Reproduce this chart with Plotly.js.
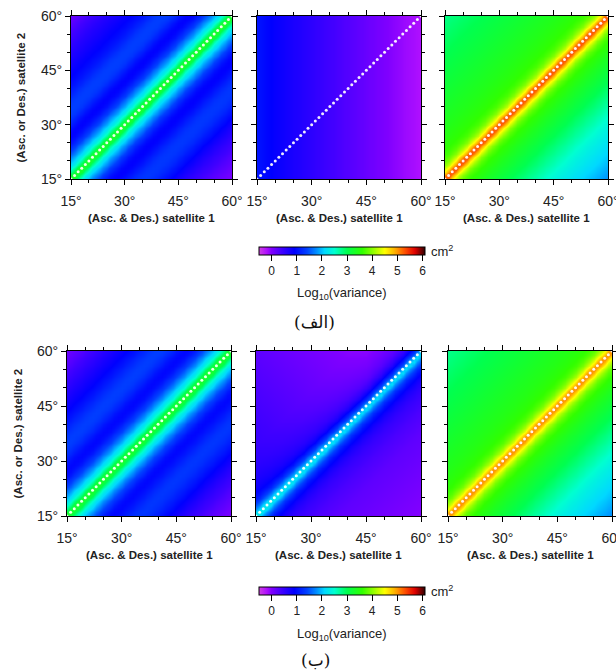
<!DOCTYPE html>
<html><head><meta charset="utf-8">
<script src="https://cdn.plot.ly/plotly-3.0.1.min.js"></script>
<style>html,body{margin:0;padding:0;background:#fff}</style>
</head><body><div id="chart" style="width:616px;height:672px"></div>
<script>
// grid positions (degrees) for both satellites
const gridDeg = [15,16,17,18,19,20,21,22,23,24,25,26,27,28,29,30,31,32,33,34,35,36,37,38,39,40,41,42,43,44,45,46,47,48,49,50,51,52,53,54,55,56,57,58,59,60];

// log10(variance) versus offset from the diagonal (0..45 deg), upper / lower triangle
const p1aUp = [3.4,3.15,2.75,2.4,2.15,1.95,1.75,1.55,1.35,1.2,1.05,0.95,0.9,0.92,1.0,1.1,1.2,1.3,1.35,1.38,1.38,1.35,1.3,1.22,1.15,1.08,1.02,0.97,0.92,0.88,0.85,0.8,0.76,0.72,0.68,0.64,0.6,0.55,0.5,0.45,0.4,0.35,0.3,0.25,0.2,0.15];
const p1aLo = [3.4,3.15,2.75,2.4,2.15,1.95,1.75,1.55,1.35,1.2,1.05,0.95,0.9,0.9,0.95,1.02,1.1,1.18,1.25,1.3,1.32,1.32,1.3,1.25,1.2,1.12,1.05,0.98,0.9,0.82,0.75,0.68,0.62,0.56,0.5,0.45,0.4,0.35,0.3,0.26,0.22,0.18,0.14,0.1,0.07,0.05];
const p2aCol = [1.05,1.01,0.97,0.93,0.89,0.85,0.82,0.79,0.76,0.73,0.7,0.67,0.64,0.61,0.58,0.55,0.52,0.49,0.46,0.43,0.4,0.38,0.35,0.33,0.3,0.28,0.25,0.23,0.2,0.18,0.15,0.12,0.1,0.07,0.05,0.02,0.0,-0.03,-0.05,-0.07,-0.1,-0.12,-0.14,-0.16,-0.18,-0.2];
const p3aUp = [5.45,5.05,4.6,4.25,4.0,3.83,3.72,3.65,3.6,3.56,3.53,3.5,3.47,3.45,3.42,3.4,3.38,3.36,3.34,3.32,3.3,3.28,3.26,3.24,3.22,3.2,3.18,3.16,3.14,3.12,3.1,3.08,3.06,3.04,3.02,3.0,2.98,2.96,2.94,2.92,2.9,2.88,2.86,2.84,2.82,2.8];
const p3aLo = [5.45,5.05,4.6,4.25,3.98,3.8,3.68,3.6,3.53,3.47,3.41,3.35,3.3,3.25,3.2,3.15,3.1,3.05,3.0,2.95,2.9,2.85,2.8,2.75,2.7,2.65,2.6,2.55,2.5,2.45,2.4,2.36,2.32,2.28,2.24,2.2,2.16,2.12,2.08,2.04,2.0,1.96,1.92,1.88,1.84,1.8];

const p1bUp = [3.35,3.15,2.8,2.45,2.2,2.0,1.8,1.6,1.42,1.27,1.12,1.0,0.95,0.95,1.0,1.08,1.17,1.25,1.32,1.36,1.38,1.36,1.32,1.26,1.2,1.13,1.06,1.0,0.94,0.88,0.83,0.78,0.73,0.68,0.63,0.58,0.53,0.48,0.43,0.38,0.33,0.28,0.24,0.2,0.16,0.12];
const p1bLo = [3.35,3.15,2.8,2.45,2.2,2.0,1.8,1.6,1.42,1.27,1.12,1.0,0.95,0.95,1.0,1.06,1.13,1.2,1.26,1.3,1.32,1.3,1.27,1.22,1.16,1.1,1.03,0.96,0.89,0.82,0.75,0.68,0.62,0.56,0.5,0.45,0.4,0.35,0.3,0.26,0.22,0.18,0.14,0.1,0.07,0.05];
const p2bUp = [2.35,2.15,1.8,1.5,1.25,1.07,0.95,0.86,0.8,0.75,0.71,0.67,0.64,0.61,0.58,0.56,0.54,0.52,0.5,0.48,0.47,0.46,0.45,0.44,0.43,0.42,0.41,0.4,0.39,0.38,0.37,0.36,0.35,0.34,0.33,0.32,0.31,0.3,0.29,0.28,0.27,0.26,0.25,0.24,0.23,0.22];
const p2bLo = [2.35,2.15,1.8,1.5,1.25,1.05,0.92,0.8,0.7,0.62,0.56,0.5,0.46,0.42,0.39,0.36,0.33,0.31,0.29,0.27,0.25,0.23,0.21,0.2,0.19,0.18,0.17,0.16,0.15,0.14,0.13,0.12,0.11,0.1,0.09,0.08,0.07,0.06,0.05,0.04,0.03,0.02,0.01,0.0,-0.01,-0.02];
const p2bColUp = [0,-0.02,-0.04,-0.06,-0.08,-0.1,-0.12,-0.14,-0.16,-0.18,-0.2,-0.22,-0.24,-0.26,-0.28,-0.3,-0.32,-0.34,-0.36,-0.38,-0.4,-0.42,-0.44,-0.46,-0.48,-0.5,-0.52,-0.54,-0.56,-0.58,-0.6,-0.6,-0.6,-0.6,-0.6,-0.6,-0.6,-0.6,-0.6,-0.6,-0.6,-0.6,-0.6,-0.6,-0.6,-0.6];
const p3bUp = [5.15,4.85,4.45,4.15,3.93,3.78,3.68,3.62,3.57,3.53,3.5,3.47,3.44,3.42,3.4,3.38,3.36,3.34,3.32,3.3,3.28,3.26,3.24,3.22,3.2,3.18,3.16,3.14,3.12,3.1,3.08,3.06,3.04,3.02,3.0,2.98,2.96,2.94,2.92,2.9,2.88,2.86,2.84,2.82,2.8,2.78];
const p3bLo = [5.15,4.85,4.45,4.15,3.92,3.77,3.66,3.58,3.51,3.45,3.39,3.33,3.28,3.23,3.18,3.13,3.08,3.03,2.98,2.93,2.88,2.83,2.78,2.73,2.68,2.63,2.58,2.53,2.48,2.43,2.38,2.34,2.3,2.26,2.22,2.18,2.14,2.1,2.06,2.02,1.98,1.94,1.9,1.86,1.82,1.78];

// colour scale (value -> colour)
const csVals = [-0.5,-0.2,0.0,0.4,0.9,1.4,1.8,2.1,2.5,3.0,3.6,4.1,4.5,4.9,5.3,5.7,6.1];
const csCols = ['#d040e0','#b010ff','#8000ff','#4000ff','#0000ff','#0040ff','#0090ff','#00d8ff','#00ffd0','#00ff50','#30ff00','#a0ff00','#ffff00','#ffb000','#ff5000','#e00000','#300000'];
const cbTickVals = [0,1,2,3,4,5,6];
const cbTickText = ['0','1','2','3','4','5','6'];
const cbTitle = 'Log<sub>10</sub>(variance)';
const xTitle = '(Asc. &amp; Des.) satellite 1';
const yTitle = '(Asc. or Des.) satellite 2';
const rowLabels = ['(الف)', '(ب)'];

const W = 616, H = 672;
const cmin = csVals[0], cmax = csVals[csVals.length-1];
const colorscale = csVals.map((v,i)=>[(v-cmin)/(cmax-cmin), csCols[i]]);

function build(up, lo, colUp, colLo){
  return gridDeg.map((yv, yi) => gridDeg.map((xv, xi) => {
    const d = yi - xi;
    if (d > 0) return (up ? up[d] : 0) + (colUp ? colUp[xi] : 0);
    if (d < 0) return (lo ? lo[-d] : 0) + (colLo ? colLo[xi] : 0);
    return (up ? up[0] : 0) + ((colUp ? colUp[xi] : 0) + (colLo ? colLo[xi] : 0)) / 2;
  }));
}

const panels = [
  {row:0, box:[71,232,16,179],  z: build(p1aUp, p1aLo, null, null)},
  {row:0, box:[257,421,16,179], z: build(null, null, p2aCol, p2aCol)},
  {row:0, box:[445,608,16,179], z: build(p3aUp, p3aLo, null, null)},
  {row:1, box:[67,231,351,516], z: build(p1bUp, p1bLo, null, null)},
  {row:1, box:[256,421,351,516],z: build(p2bUp, p2bLo, p2bColUp, null)},
  {row:1, box:[448,612,351,516],z: build(p3bUp, p3bLo, null, null)}
];

const font = 'Liberation Sans, Arial, sans-serif';
const data = [];
const layout = {
  width: W, height: H, margin:{l:0,r:0,t:0,b:0},
  paper_bgcolor:'#fff', plot_bgcolor:'#fff',
  font:{family:font, color:'#222'},
  showlegend:false, annotations:[]
};

panels.forEach((p, i) => {
  const n = i + 1;
  const xa = 'xaxis' + (n === 1 ? '' : n), ya = 'yaxis' + (n === 1 ? '' : n);
  const xr = 'x' + (n === 1 ? '' : n), yr = 'y' + (n === 1 ? '' : n);
  data.push({type:'heatmap', x:gridDeg, y:gridDeg, z:p.z, zsmooth:'best',
    coloraxis: p.row === 0 ? 'coloraxis' : 'coloraxis2', xaxis:xr, yaxis:yr, hoverinfo:'skip'});
  data.push({type:'scatter', mode:'markers', x:gridDeg, y:gridDeg, xaxis:xr, yaxis:yr,
    marker:{size:3, color:'rgba(255,255,255,0.92)', line:{width:0}}, hoverinfo:'skip'});
  const common = {range:[15,60], tickmode:'linear', tick0:15, dtick:15, ticksuffix:'°',
    ticks:'outside', ticklen:5, tickwidth:1, tickcolor:'#000', showline:true, linecolor:'#000', linewidth:1,
    mirror:'ticks', showgrid:false, zeroline:false, tickfont:{size:14, family:font, color:'#222'},
    ticklabeloverflow:'allow',
    minor:{tick0:15, dtick:5, ticks:'outside', ticklen:3, tickcolor:'#000', showgrid:false}};
  const [x0,x1,y0,y1] = p.box;
  layout[xa] = Object.assign({}, common, {domain:[x0/W, x1/W], anchor:yr, ticklabelstandoff:4});
  layout[ya] = Object.assign({}, common, {domain:[1-y1/H, 1-y0/H], anchor:xr,
    showticklabels: (i % 3 === 0)});
  layout.annotations.push({xref:'paper', yref:'paper', x:(x0+x1)/2/W, y:1-(y1+39)/H,
    xanchor:'center', yanchor:'middle', showarrow:false, text:'<b>'+xTitle+'</b>',
    font:{size:11.5, family:font, color:'#222'}});
  if (i % 3 === 0) {
    layout.annotations.push({xref:'paper', yref:'paper', x:(x0-50)/W, y:1-(y0+y1)/2/H,
      xanchor:'center', yanchor:'middle', textangle:-90, showarrow:false, text:'<b>'+yTitle+'</b>',
      font:{size:11.5, family:font, color:'#222'}});
  }
});

function cb(topPx){
  return {orientation:'h', x:342/W, xanchor:'center', y:1-topPx/H, yanchor:'top',
    lenmode:'pixels', len:166, thickness:8, outlinewidth:1, outlinecolor:'#000',
    xpad:0, ypad:0, tickmode:'array', tickvals:cbTickVals, ticktext:cbTickText,
    ticks:'outside', ticklen:6, tickcolor:'#000', tickfont:{size:12, family:font, color:'#222'}};
}
layout.coloraxis = {cmin:cmin, cmax:cmax, colorscale:colorscale, colorbar:cb(247)};
layout.coloraxis2 = {cmin:cmin, cmax:cmax, colorscale:colorscale, colorbar:cb(587)};

[[251,293],[591,634]].forEach(pp => {
  layout.annotations.push({xref:'paper', yref:'paper', x:429/W, y:1-pp[0]/H,
    xanchor:'left', yanchor:'middle', showarrow:false, text:'cm<sup>2</sup>', font:{size:13, family:font, color:'#222'}});
  layout.annotations.push({xref:'paper', yref:'paper', x:342/W, y:1-pp[1]/H,
    xanchor:'center', yanchor:'middle', showarrow:false, text:cbTitle, font:{size:13, family:font, color:'#222'}});
});
[[314,322],[315,660]].forEach((pp, k) => layout.annotations.push({xref:'paper', yref:'paper', x:pp[0]/W, y:1-pp[1]/H,
  xanchor:'center', yanchor:'middle', showarrow:false, text:rowLabels[k], font:{size:17, family:'DejaVu Serif, DejaVu Sans, serif', color:'#111'}}));

Plotly.newPlot('chart', data, layout, {staticPlot:true});
</script></body></html>
